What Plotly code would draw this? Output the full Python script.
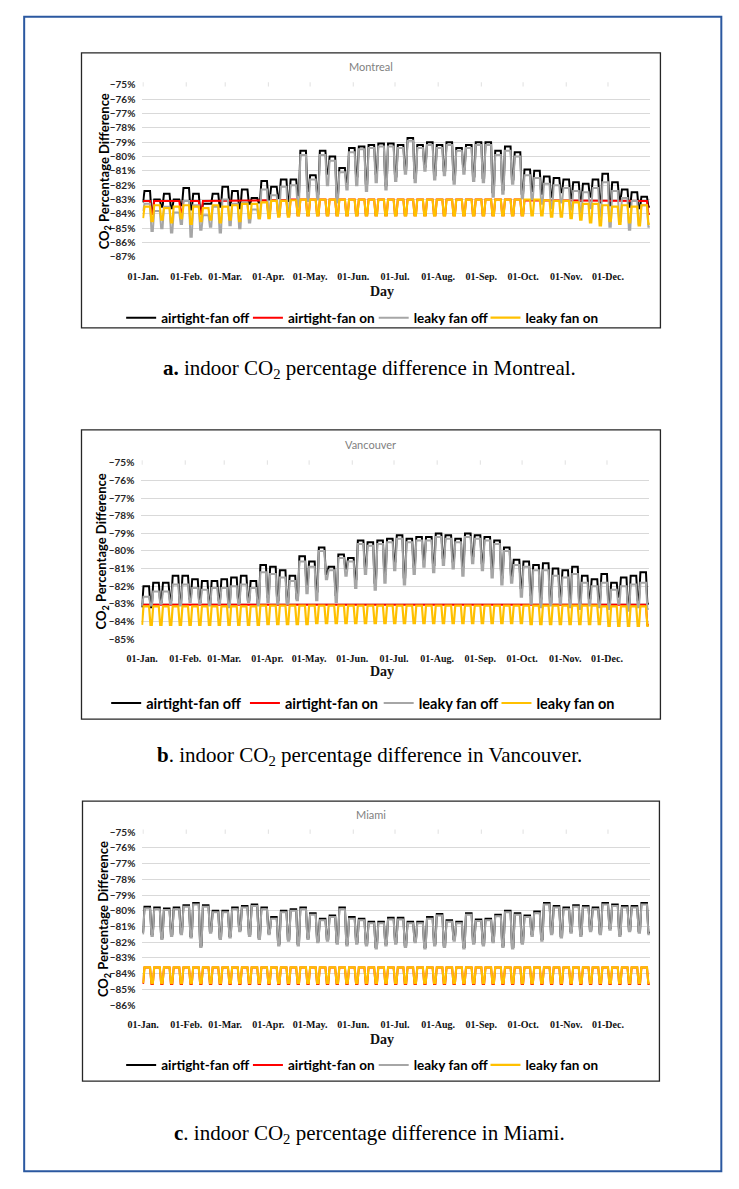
import plotly.graph_objects as go

W, H = 739, 1189

# ---------------- shared axis data ----------------
month_days = [0, 31, 59, 90, 120, 151, 181, 212, 243, 273, 304, 334]
month_labels = ["01-Jan.", "01-Feb.", "01-Mar.", "01-Apr.", "01-May.", "01-Jun.",
                "01-Jul.", "01-Aug.", "01-Sep.", "01-Oct.", "01-Nov.", "01-Dec."]
series_names = ["airtight-fan off", "airtight-fan on", "leaky fan off", "leaky fan on"]

# Weekly readings: *_wd = Mon-Fri level of each week (52 weeks),
# *_we = Jan-1 (Sunday) value followed by the weekend level ending each week (53 values)

# ---------------- Montreal ----------------
mtl_black_wd = [-82.4, -83.0, -82.6, -83.0, -82.2, -82.6, -83.3, -82.6, -82.1, -82.4, -82.3, -82.9,
                -81.7, -82.1, -81.6, -81.6, -79.6,
                -81.3, -79.6, -80.0, -80.8, -79.4, -79.3, -79.2, -79.1,
                -79.1, -79.2, -78.7, -79.2, -79.0, -79.2, -79.0, -79.4, -79.2, -79.0, -79.0, -79.6, -79.3, -79.7,
                -80.9, -81.0, -81.4, -81.5, -81.6, -81.8, -81.9, -81.6, -81.2, -81.8, -82.3, -82.5, -82.8]
mtl_black_we = [-83.2,
                -83.9, -83.5, -83.6, -83.4, -83.7, -83.8, -83.3, -83.5, -83.4, -83.6, -83.3, -83.2,
                -83.0, -82.9, -83.1, -82.7, -82.4,
                -82.6, -81.2, -82.8, -81.8, -81.4, -81.9, -81.2, -82.0,
                -81.4, -80.9, -81.5, -80.7, -81.3, -81.0, -81.6, -80.9, -81.4, -81.5, -82.5, -82.3, -81.6, -82.6,
                -82.4, -82.6, -82.8, -82.5, -82.9, -83.1, -82.8, -83.2, -83.4, -83.0, -83.5, -83.6, -83.5]
mtl_red_wd = [-83.1, -83.1, -83.1, -83.1, -83.1, -83.1, -83.1, -83.1, -83.1, -83.1, -83.1, -83.1,
              -83.05, -83.05, -83.05, -83.0, -83.0,
              -83.0, -83.0, -83.0, -83.0, -83.0, -83.0, -83.0, -83.0,
              -83.0, -83.0, -83.0, -83.0, -83.0, -83.0, -83.0, -83.0, -83.0, -83.0, -83.0, -83.0, -83.0, -83.0,
              -83.05, -83.05, -83.05, -83.1, -83.1, -83.1, -83.1, -83.1, -83.1, -83.1, -83.1, -83.1, -83.1]
mtl_red_we = [-83.1,
              -84.0, -83.1, -83.1, -83.9, -83.1, -84.0, -83.1, -83.1, -83.1, -83.1, -83.1, -83.1,
              -84.1, -84.1, -84.1, -84.1, -84.1,
              -84.1, -84.1, -84.1, -84.1, -84.1, -84.1, -84.1, -84.1,
              -84.1, -84.1, -84.1, -84.1, -84.1, -84.1, -84.1, -84.1, -84.1, -84.1, -84.1, -84.1, -84.1, -84.1,
              -83.1, -83.1, -83.1, -83.1, -83.1, -83.1, -83.1, -83.1, -83.1, -83.1, -83.1, -83.1, -84.0]
mtl_gray_wd = [-83.3, -83.8, -83.5, -83.9, -83.1, -83.4, -84.1, -83.5, -83.0, -83.3, -83.2, -83.7,
               -82.3, -82.7, -82.1, -82.0, -79.9,
               -81.6, -79.9, -80.3, -81.1, -79.7, -79.5, -79.4, -79.3,
               -79.3, -79.4, -78.9, -79.4, -79.2, -79.4, -79.2, -79.6, -79.4, -79.2, -79.2, -79.9, -79.6, -80.0,
               -81.3, -81.5, -81.9, -82.0, -82.2, -82.4, -82.5, -82.2, -81.8, -82.4, -82.9, -83.1, -83.4]
mtl_gray_we = [-83.8,
               -85.2, -85.0, -85.3, -84.7, -85.6, -85.1, -84.9, -85.3, -84.8, -85.0, -84.6, -84.3,
               -84.0, -83.8, -84.0, -83.5, -83.1,
               -83.0, -82.0, -83.2, -82.3, -82.0, -82.4, -81.8, -82.3,
               -81.7, -81.2, -81.8, -81.0, -81.6, -81.3, -81.9, -81.2, -81.7, -81.8, -82.8, -82.6, -81.9, -82.9,
               -83.0, -83.3, -83.6, -83.2, -83.7, -83.9, -83.6, -84.2, -84.9, -84.5, -85.1, -84.7, -84.9]
mtl_yellow_wd = [-83.5, -83.4, -83.6, -83.5, -83.4, -83.5, -83.6, -83.4, -83.5, -83.4, -83.3, -83.3,
                 -83.2, -83.1, -83.1, -83.05, -83.0,
                 -83.0, -83.0, -83.0, -83.0, -83.0, -83.0, -83.0, -83.0,
                 -83.0, -83.0, -83.0, -83.0, -83.0, -83.0, -83.0, -83.0, -83.0, -83.0, -83.0, -83.0, -83.0, -83.0,
                 -83.0, -83.0, -83.05, -83.1, -83.1, -83.2, -83.3, -83.3, -83.4, -83.5, -83.4, -83.5, -83.4]
mtl_yellow_we = [-84.3,
                 -84.5, -84.4, -84.6, -84.3, -84.7, -84.5, -84.4, -84.6, -84.4, -84.5, -84.3, -84.3,
                 -84.3, -84.2, -84.2, -84.1, -84.1,
                 -84.1, -84.1, -84.1, -84.1, -84.1, -84.1, -84.1, -84.1,
                 -84.1, -84.1, -84.1, -84.1, -84.1, -84.1, -84.1, -84.1, -84.1, -84.1, -84.1, -84.1, -84.1, -84.1,
                 -84.1, -84.1, -84.2, -84.2, -84.3, -84.4, -84.6, -84.8, -84.5, -84.7, -84.6, -84.8, -84.7]
mtl_ytick_vals = [-75, -76, -77, -78, -79, -80, -81, -82, -83, -84, -85, -86, -87]
mtl_ytick_text = ["−75%", "−76%", "−77%", "−78%", "−79%", "−80%", "−81%", "−82%", "−83%",
                  "−84%", "−85%", "−86%", "−87%"]

# ---------------- Vancouver ----------------
van_black_wd = [-82.0, -81.8, -81.8, -81.4, -81.4, -81.6, -81.7, -81.7, -81.6, -81.5, -81.4, -81.7,
                -80.8, -80.9, -81.1, -81.4, -80.3,
                -80.6, -79.8, -80.9, -80.2, -80.4, -79.4, -79.5, -79.4,
                -79.3, -79.1, -79.3, -79.2, -79.2, -79.0, -79.1, -79.3, -79.0, -79.1, -79.2, -79.4, -79.8, -80.5,
                -80.6, -80.8, -80.7, -81.0, -81.1, -80.9, -81.4, -81.6, -81.3, -81.8, -81.5, -81.4, -81.2]
van_black_we = [-83.2,
                -83.2, -82.9, -82.8, -83.0, -82.7, -82.9, -83.0, -82.8, -83.1, -82.9, -82.8, -83.0,
                -82.6, -82.8, -82.9, -82.7, -81.9,
                -82.3, -81.3, -82.5, -81.0, -81.6, -80.9, -81.8, -81.3,
                -80.6, -81.5, -80.9, -80.5, -80.8, -80.4, -80.6, -80.9, -80.3, -80.7, -81.0, -81.5, -81.4, -82.1,
                -82.5, -82.7, -82.9, -82.6, -82.8, -83.0, -82.7, -82.9, -83.1, -82.6, -83.2, -82.8, -83.0]
van_red_wd = [-83.05, -83.05, -83.05, -83.05, -83.05, -83.05, -83.05, -83.05, -83.05, -83.05, -83.05, -83.05,
              -83.05, -83.05, -83.05, -83.05, -83.05,
              -83.05, -83.05, -83.05, -83.05, -83.05, -83.05, -83.05, -83.05,
              -83.05, -83.05, -83.05, -83.05, -83.05, -83.05, -83.05, -83.05, -83.05, -83.05, -83.05, -83.05, -83.05, -83.05,
              -83.05, -83.05, -83.05, -83.05, -83.05, -83.05, -83.05, -83.05, -83.05, -83.05, -83.05, -83.05, -83.05]
van_red_we = [-83.05,
              -83.05, -83.05, -83.05, -83.05, -83.05, -83.05, -83.05, -83.05, -83.05, -83.05, -83.05, -83.05,
              -83.05, -83.05, -83.05, -83.05, -83.05,
              -83.05, -83.05, -83.05, -83.05, -83.05, -83.05, -83.05, -83.05,
              -83.05, -83.05, -83.05, -83.05, -83.05, -83.05, -83.05, -83.05, -83.05, -83.05, -83.05, -83.05, -83.05, -83.05,
              -83.05, -83.05, -83.05, -83.05, -83.05, -83.05, -83.05, -83.05, -83.05, -83.05, -83.05, -83.05, -84.2]
van_gray_wd = [-82.6, -82.3, -82.3, -81.9, -81.9, -82.1, -82.2, -82.1, -82.1, -82.0, -81.9, -82.1,
               -81.2, -81.3, -81.5, -81.7, -80.6,
               -80.9, -80.0, -81.1, -80.4, -80.6, -79.6, -79.7, -79.6,
               -79.5, -79.3, -79.5, -79.4, -79.4, -79.2, -79.3, -79.5, -79.2, -79.3, -79.4, -79.6, -80.0, -80.8,
               -80.9, -81.1, -81.1, -81.4, -81.5, -81.3, -81.8, -82.0, -81.8, -82.2, -82.0, -81.9, -81.8]
van_gray_we = [-83.1,
               -83.1, -83.0, -83.0, -83.1, -82.9, -83.0, -83.1, -83.0, -83.2, -83.0, -82.9, -83.1,
               -82.9, -83.0, -83.0, -82.8, -82.4,
               -82.8, -81.6, -82.9, -81.4, -82.1, -81.3, -82.2, -81.8,
               -81.1, -81.9, -81.3, -80.9, -81.2, -80.8, -81.0, -81.4, -80.7, -81.1, -81.5, -81.9, -81.8, -82.6,
               -83.0, -83.2, -83.1, -83.0, -83.2, -83.3, -83.1, -83.2, -83.3, -83.0, -83.4, -83.2, -83.3]
van_yellow_wd = [-83.15, -83.15, -83.15, -83.15, -83.15, -83.15, -83.15, -83.15, -83.15, -83.15, -83.15, -83.15,
                 -83.1, -83.1, -83.1, -83.1, -83.1,
                 -83.1, -83.1, -83.1, -83.1, -83.1, -83.1, -83.1, -83.1,
                 -83.1, -83.1, -83.1, -83.1, -83.1, -83.1, -83.1, -83.1, -83.1, -83.1, -83.1, -83.1, -83.1, -83.1,
                 -83.1, -83.1, -83.1, -83.1, -83.1, -83.1, -83.1, -83.1, -83.15, -83.15, -83.15, -83.15, -83.15]
van_yellow_we = [-84.2,
                 -84.2, -84.2, -84.2, -84.2, -84.2, -84.2, -84.2, -84.2, -84.2, -84.2, -84.2, -84.2,
                 -84.15, -84.15, -84.15, -84.15, -84.15,
                 -84.1, -84.1, -84.1, -84.1, -84.1, -84.1, -84.1, -84.1,
                 -84.1, -84.1, -84.1, -84.1, -84.1, -84.1, -84.1, -84.1, -84.1, -84.1, -84.1, -84.1, -84.1, -84.1,
                 -84.15, -84.15, -84.15, -84.15, -84.15, -84.15, -84.15, -84.15, -84.25, -84.25, -84.25, -84.25, -84.25]
van_ytick_vals = [-75, -76, -77, -78, -79, -80, -81, -82, -83, -84, -85]
van_ytick_text = ["−75%", "−76%", "−77%", "−78%", "−79%", "−80%", "−81%", "−82%", "−83%", "−84%", "−85%"]

# ---------------- Miami ----------------
mia_black_wd = [-79.75, -79.8, -79.85, -79.8, -79.65, -79.5, -79.65, -80.0, -80.0, -79.8, -79.7, -79.6, -79.8,
                -80.4, -80.0, -79.9, -79.8, -80.15, -80.5, -80.3, -79.8, -80.4, -80.5, -80.7, -80.7,
                -80.45, -80.45, -80.7, -80.7, -80.4, -80.2, -80.6, -80.7, -80.15, -80.55, -80.5, -80.25, -80.0, -80.15,
                -80.3, -80.05, -79.5, -79.7, -79.8, -79.65, -79.7, -79.8, -79.5, -79.6, -79.7, -79.7, -79.5]
mia_black_we = [-81.4,
                -81.5, -81.7, -81.5, -81.4, -81.6, -82.2, -81.3, -81.7, -81.6, -81.2, -81.5, -81.7, -81.4,
                -82.1, -81.8, -82.1, -81.7, -81.9, -81.8, -82.0, -82.1, -82.0, -82.1, -82.3, -82.1,
                -82.0, -82.2, -81.9, -82.3, -82.1, -82.2, -81.8, -82.3, -82.0, -82.1, -81.9, -82.2, -82.3, -82.0,
                -81.5, -81.8, -81.4, -81.6, -81.3, -81.5, -81.2, -81.4, -81.1, -81.5, -81.2, -81.3, -81.4]
mia_red_wd = [-83.6, -83.6, -83.6, -83.6, -83.6, -83.6, -83.6, -83.6, -83.6, -83.6, -83.6, -83.6, -83.6,
              -83.6, -83.6, -83.6, -83.6, -83.6, -83.6, -83.6, -83.6, -83.6, -83.6, -83.6, -83.6,
              -83.6, -83.6, -83.6, -83.6, -83.6, -83.6, -83.6, -83.6, -83.6, -83.6, -83.6, -83.6, -83.6, -83.6,
              -83.6, -83.6, -83.6, -83.6, -83.6, -83.6, -83.6, -83.6, -83.6, -83.6, -83.6, -83.6, -83.6]
mia_red_we = [-84.65,
              -84.65, -84.65, -84.65, -84.65, -84.65, -84.65, -84.65, -84.65, -84.65, -84.65, -84.65, -84.65, -84.65,
              -84.65, -84.65, -84.65, -84.65, -84.65, -84.65, -84.65, -84.65, -84.65, -84.65, -84.65, -84.65,
              -84.65, -84.65, -84.65, -84.65, -84.65, -84.65, -84.65, -84.65, -84.65, -84.65, -84.65, -84.65, -84.65, -84.65,
              -84.65, -84.65, -84.65, -84.65, -84.65, -84.65, -84.65, -84.65, -84.65, -84.65, -84.65, -84.65, -84.65]
mia_gray_wd = [-79.85, -79.9, -79.95, -79.9, -79.75, -79.6, -79.75, -80.1, -80.1, -79.9, -79.8, -79.7, -79.9,
               -80.5, -80.1, -80.0, -79.9, -80.25, -80.6, -80.4, -79.9, -80.5, -80.6, -80.8, -80.8,
               -80.55, -80.55, -80.8, -80.8, -80.5, -80.3, -80.7, -80.8, -80.25, -80.65, -80.6, -80.35, -80.1, -80.25,
               -80.4, -80.15, -79.6, -79.8, -79.9, -79.75, -79.8, -79.9, -79.6, -79.7, -79.8, -79.8, -79.6]
mia_gray_we = [-81.5,
               -81.6, -81.8, -81.6, -81.5, -81.7, -82.3, -81.4, -81.8, -81.7, -81.3, -81.6, -81.8, -81.5,
               -82.2, -81.9, -82.2, -81.8, -82.0, -81.9, -82.1, -82.2, -82.1, -82.2, -82.4, -82.2,
               -82.1, -82.3, -82.0, -82.4, -82.2, -82.3, -81.9, -82.4, -82.1, -82.2, -82.0, -82.3, -82.4, -82.1,
               -81.6, -81.9, -81.5, -81.7, -81.4, -81.6, -81.3, -81.5, -81.2, -81.6, -81.3, -81.4, -81.5]
mia_yellow_wd = [-83.6, -83.6, -83.6, -83.6, -83.6, -83.6, -83.6, -83.6, -83.6, -83.6, -83.6, -83.6, -83.6,
                 -83.6, -83.6, -83.6, -83.6, -83.6, -83.6, -83.6, -83.6, -83.6, -83.6, -83.6, -83.6,
                 -83.6, -83.6, -83.6, -83.6, -83.6, -83.6, -83.6, -83.6, -83.6, -83.6, -83.6, -83.6, -83.6, -83.6,
                 -83.6, -83.6, -83.6, -83.6, -83.6, -83.6, -83.6, -83.6, -83.6, -83.6, -83.6, -83.6, -83.6]
mia_yellow_we = [-84.6,
                 -84.6, -84.6, -84.6, -84.6, -84.6, -84.6, -84.6, -84.6, -84.6, -84.6, -84.6, -84.6, -84.6,
                 -84.6, -84.6, -84.6, -84.6, -84.6, -84.6, -84.6, -84.6, -84.6, -84.6, -84.6, -84.6,
                 -84.6, -84.6, -84.6, -84.6, -84.6, -84.6, -84.6, -84.6, -84.6, -84.6, -84.6, -84.6, -84.6, -84.6,
                 -84.6, -84.6, -84.6, -84.6, -84.6, -84.6, -84.6, -84.6, -84.6, -84.6, -84.6, -84.6, -84.6]
mia_ytick_vals = [-75, -76, -77, -78, -79, -80, -81, -82, -83, -84, -85, -86]
mia_ytick_text = ["−75%", "−76%", "−77%", "−78%", "−79%", "−80%", "−81%", "−82%", "−83%", "−84%", "−85%", "−86%"]


def daily(wd, we):
    """Expand weekly readings into daily values (Sun Jan 1, then Mon-Fri / Sat-Sun)."""
    y = [we[0]]
    for k in range(len(wd)):
        y.extend([wd[k]] * 5)
        y.extend([we[k + 1]] * 2)
    return y


days = list(range(365))

colors = ["#000000", "#ff0000", "#a6a6a6", "#ffc000"]
widths = [2, 2, 2, 2.2]

# map reference-picture pixels to page pixels (the photographed page is slightly
# shrunk and offset); then to paper fractions
SX, OX = 0.9815, 22.4
SY, OY = 0.9887, 14.2


def rx(x):
    return (x - OX) / SX


def ry(y):
    return (y - OY) / SY


def px(x):
    return rx(x) / W


def py(y):
    return 1 - ry(y) / H


panels = [
    dict(title="Montreal", city="Montreal", tag="<b>a.</b>",
         data=[(mtl_black_wd, mtl_black_we), (mtl_red_wd, mtl_red_we),
               (mtl_gray_wd, mtl_gray_we), (mtl_yellow_wd, mtl_yellow_we)],
         yvals=mtl_ytick_vals, ytext=mtl_ytick_text,
         box=(81, 52, 661, 327), plot=(142, 651, 84, 256),
         title_y=66, day_y=291, legend_y=317, legend_x=[160, 287, 413, 525], legend_font=13.5,
         ytitle_x=104, caption_y=368),
    dict(title="Vancouver", city="Vancouver", tag="<b>b</b>.",
         data=[(van_black_wd, van_black_we), (van_red_wd, van_red_we),
               (van_gray_wd, van_gray_we), (van_yellow_wd, van_yellow_we)],
         yvals=van_ytick_vals, ytext=van_ytick_text,
         box=(81, 429, 661, 718), plot=(141, 650, 462, 638),
         title_y=444, day_y=670, legend_y=702, legend_x=[145, 284, 418, 536], legend_font=14.5,
         ytitle_x=102, caption_y=755),
    dict(title="Miami", city="Miami", tag="<b>c</b>.",
         data=[(mia_black_wd, mia_black_we), (mia_red_wd, mia_red_we),
               (mia_gray_wd, mia_gray_we), (mia_yellow_wd, mia_yellow_we)],
         yvals=mia_ytick_vals, ytext=mia_ytick_text,
         box=(82, 800, 660, 1080), plot=(142, 651, 831, 1004),
         title_y=813, day_y=1038, legend_y=1064, legend_x=[160, 287, 413, 525], legend_font=13.5,
         ytitle_x=103, caption_y=1133),
]

fig = go.Figure()
shapes = []
annotations = []
layout = {}

sans = "Lato"
serif = "Liberation Serif"

for i, p in enumerate(panels):
    n = "" if i == 0 else str(i + 1)
    xa, ya = "x" + n, "y" + n
    for j in range(4):
        idx = i * 4 + j
        leg = "legend" if idx == 0 else "legend" + str(idx + 1)
        wd, we = p["data"][j]
        fig.add_trace(go.Scatter(
            x=days, y=daily(wd, we), mode="lines", name=series_names[j],
            line=dict(color=colors[j], width=widths[j]),
            xaxis=xa, yaxis=ya, legend=leg, showlegend=True))
        layout[leg] = dict(
            orientation="h", x=(rx(p["legend_x"][j]) - 40) / W, xanchor="left",
            y=py(p["legend_y"]), yanchor="middle",
            font=dict(family=sans, size=p["legend_font"], color="#000000", weight="bold"),
            itemwidth=30, bgcolor="rgba(0,0,0,0)", borderwidth=0)
    x0, x1, yt, yb = p["plot"]
    layout["xaxis" + n] = dict(
        domain=[px(x0), px(x1)], anchor=ya, range=[-0.5, 364.5],
        tickvals=month_days, ticktext=month_labels, showgrid=False, zeroline=False,
        showline=False, ticks="", ticklabelstandoff=12,
        tickfont=dict(family=serif, size=10, color="#111111", weight="bold"))
    layout["yaxis" + n] = dict(
        domain=[py(yb), py(yt)], anchor=xa, range=[p["yvals"][-1], p["yvals"][0]],
        tickvals=p["yvals"], ticktext=p["ytext"], showgrid=True, gridcolor="#d9d9d9",
        gridwidth=1, zeroline=False, showline=False, ticks="", ticklabelstandoff=6,
        tickfont=dict(family=sans, size=10, color="#262626", weight="bold"))
    bx0, by0, bx1, by1 = p["box"]
    shapes.append(dict(type="rect", xref="paper", yref="paper", x0=px(bx0), x1=px(bx1),
                       y0=py(by1), y1=py(by0), line=dict(color="#262626", width=1.3)))
    for d in month_days:
        shapes.append(dict(type="line", xref=xa, yref=ya + " domain", x0=d, x1=d,
                           y0=0.99, y1=1.015, line=dict(color="#e0e0e0", width=1)))
    annotations.append(dict(text=p["title"], x=px(371), y=py(p["title_y"]), xref="paper",
                            yref="paper", showarrow=False, xanchor="center", yanchor="middle",
                            font=dict(family=sans, size=11, color="#7f7f7f")))
    annotations.append(dict(text="CO<sub>2</sub> Percentage Difference", x=px(p["ytitle_x"]),
                            y=py((yt + yb) / 2), xref="paper", yref="paper", showarrow=False,
                            textangle=-90, xanchor="center", yanchor="middle",
                            font=dict(family=sans, size=13, color="#000000", weight="bold")))
    annotations.append(dict(text="Day", x=px(382), y=py(p["day_y"]), xref="paper",
                            yref="paper", showarrow=False, xanchor="center", yanchor="middle",
                            font=dict(family=serif, size=14, color="#111111", weight="bold")))
    annotations.append(dict(text=p["tag"] + " indoor CO<sub>2</sub> percentage difference in "
                            + p["city"] + ".", x=px(370), y=py(p["caption_y"]), xref="paper",
                            yref="paper", showarrow=False, xanchor="center", yanchor="middle",
                            font=dict(family=serif, size=21, color="#000000")))

# blue page frame
shapes.append(dict(type="rect", xref="paper", yref="paper", x0=max(px(20), 1.2 / W),
                   x1=px(722), y0=py(1170), y1=min(py(16), 1 - 1.2 / H),
                   line=dict(color="#2b58a0", width=2)))

fig.update_layout(
    width=W, height=H, margin=dict(l=0, r=0, t=0, b=0),
    paper_bgcolor="white", plot_bgcolor="white",
    shapes=shapes, annotations=annotations, **layout)

fig.write_html("out.html")
